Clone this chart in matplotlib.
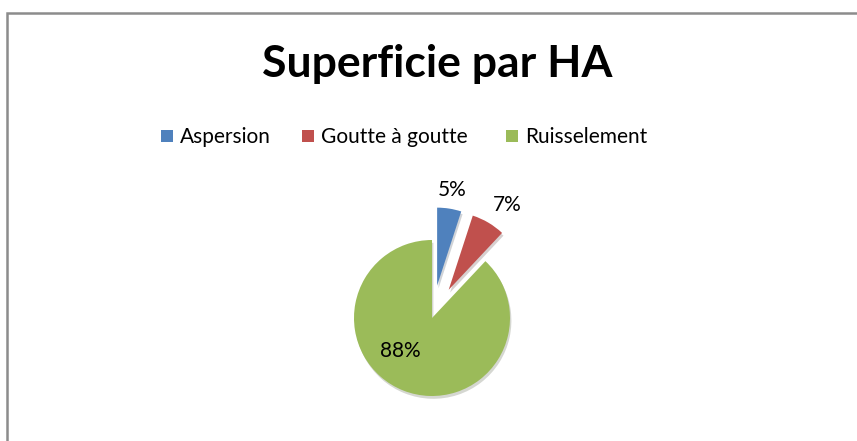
import numpy as np
import matplotlib
matplotlib.use("Agg")
import matplotlib.pyplot as plt
from matplotlib.patches import Rectangle
import matplotlib.patheffects as pe

plt.rcParams['font.family'] = ['Lato', 'DejaVu Sans']

# Data
categories = ["Aspersion", "Goutte à goutte", "Ruisselement"]
shares = [5, 7, 88]
pct_labels = ["5%", "7%", "88%"]
colors = ["#4F81BD", "#C0504D", "#9BBB59"]
explode = [0.42, 0.42, 0.0]

W, H = 857, 441
fig = plt.figure(figsize=(W / 100, H / 100), dpi=100)
fig.patch.set_facecolor("white")

# Chart frame (runs off the right and bottom edges)
fig.patches.append(Rectangle((7.5 / W, -0.1), 1.2, (H - 13) / H + 0.1,
                             transform=fig.transFigure, fill=False,
                             edgecolor="#8c8c8c", linewidth=1.8))

# Title
fig.text(437 / W, 1 - 77 / H, "Superficie par HA", ha="center", va="baseline",
         fontsize=32, fontweight="bold", color="black")

# Legend, placed by hand like Excel
leg_x = [161, 302, 506]
for x, lab, c in zip(leg_x, categories, colors):
    fig.patches.append(Rectangle((x / W, 1 - 142 / H), 12 / W, 12 / H,
                                 transform=fig.transFigure, facecolor=c,
                                 edgecolor="none"))
    fig.text((x + 19) / W, 1 - 143 / H, lab, ha="left", va="baseline",
             fontsize=15, color="black")

# Pie: radius 78 px centred at (432, 318)
R = 78.0
cx, cy = 432, 318
half = 150
ax = fig.add_axes([(cx - half) / W, (H - cy - half) / H, 2 * half / W, 2 * half / H])

wedges, _ = ax.pie(shares, colors=colors, explode=explode, startangle=90,
                   counterclock=False, radius=1.0,
                   wedgeprops=dict(linewidth=0, edgecolor="white"))
for w in wedges:
    w.set_path_effects([pe.SimplePatchShadow(offset=(1, -2), alpha=0.2),
                        pe.Normal()])

lim = half / R
ax.set_xlim(-lim, lim)
ax.set_ylim(-lim, lim)
ax.set_aspect("equal")
ax.axis("off")

# Percentage labels
label_dist = [1.66, 1.74, 0.58]
label_shift = [0, -3, -22]
for w, txt, d, s in zip(wedges, pct_labels, label_dist, label_shift):
    ang = np.deg2rad((w.theta1 + w.theta2) / 2 + s)
    ax.text(d * np.cos(ang), d * np.sin(ang), txt, ha="center", va="center",
            fontsize=15, color="black")

fig.savefig("out.png", dpi=100)
